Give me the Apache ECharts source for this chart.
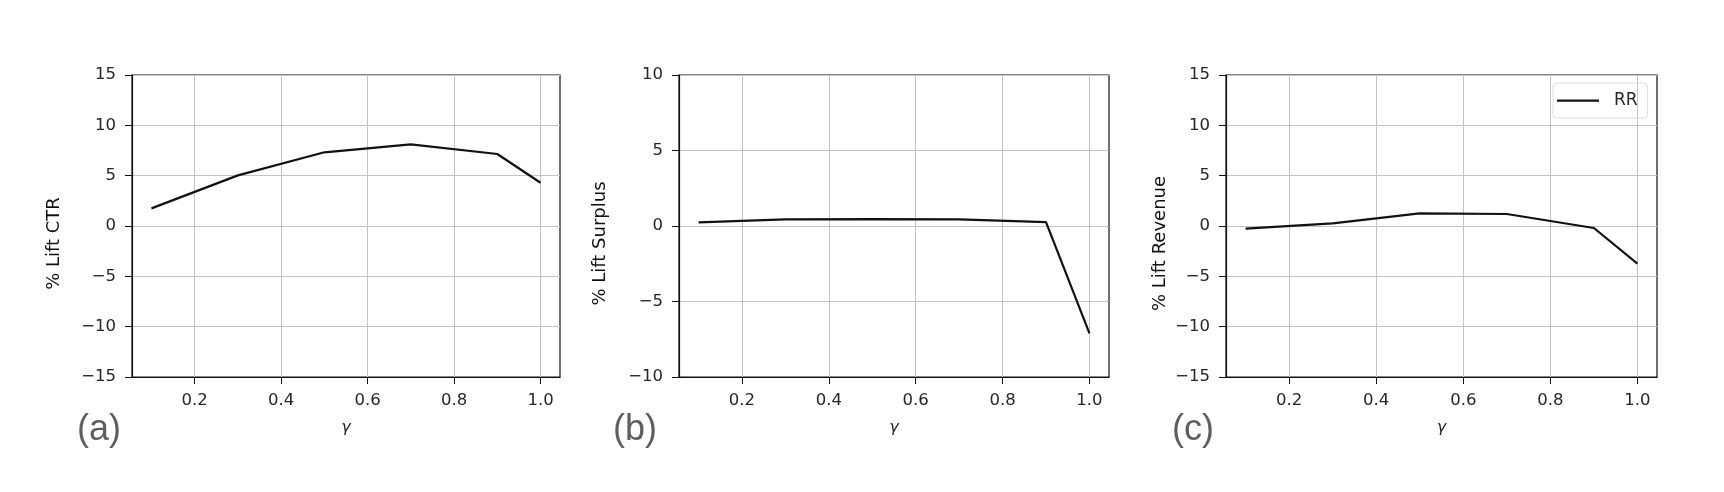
<!DOCTYPE html>
<html><head><meta charset="utf-8">
<script src="https://cdn.jsdelivr.net/npm/echarts@6/dist/echarts.min.js"></script>
<style>html,body{margin:0;padding:0;background:#fff}#c{width:1724px;height:492px}</style>
</head><body><div id="c"></div>
<script>
const gamma = [0.1, 0.3, 0.5, 0.7, 0.9, 1.0];
const liftCTR = [1.75, 5.03, 7.32, 8.11, 7.15, 4.30];
const liftSurplus = [0.24, 0.44, 0.46, 0.44, 0.26, -7.11];
const liftRevenue = [-0.26, 0.26, 1.26, 1.19, -0.20, -3.74];
const xTicks = [0.2, 0.4, 0.6, 0.8, 1.0];
const panelLabels = ['(a)', '(b)', '(c)'];
const yNames = ['% Lift CTR', '% Lift Surplus', '% Lift Revenue'];
const yMin = [-15, -10, -15];
const yMax = [15, 10, 15];
const seriesName = 'RR';

const allSeries = [liftCTR, liftSurplus, liftRevenue];
const gridPos = [
  {left: 132, top: 75, width: 428, height: 302},
  {left: 679, top: 75, width: 430, height: 302},
  {left: 1226, top: 75, width: 431, height: 302}
];
const yNameGap = [69, 70, 57];
const labelPos = [[77, 430], [613, 430], [1172, 430]];
const font = '"DejaVu Sans", sans-serif';
const textColor = '#262626';

const chart = echarts.init(document.getElementById('c'), null, {renderer: 'canvas'});
const option = {
  animation: false,
  backgroundColor: '#fff',
  grid: gridPos.map(g => Object.assign({show: true, borderColor: '#111', borderWidth: 1.2, backgroundColor: 'transparent'}, g)),
  xAxis: gridPos.map((g, i) => ({
    type: 'value', gridIndex: i, min: 0.055, max: 1.045,
    name: 'γ', nameLocation: 'middle', nameGap: 43,
    nameTextStyle: {fontFamily: font, fontStyle: 'italic', fontSize: 16, color: textColor},
    axisLine: {show: true, onZero: false, lineStyle: {color: '#111', width: 1.2}},
    axisTick: {show: true, inside: false, length: 7, customValues: xTicks, lineStyle: {color: '#111'}},
    axisLabel: {customValues: xTicks, margin: 15, fontFamily: font, fontSize: 16.5, color: textColor,
      formatter: v => v.toFixed(1)},
    splitLine: {show: true, lineStyle: {color: '#c4c4c4', width: 1}}
  })),
  yAxis: gridPos.map((g, i) => ({
    type: 'value', gridIndex: i, min: yMin[i], max: yMax[i], interval: 5,
    name: yNames[i], nameLocation: 'middle', nameGap: yNameGap[i], nameRotate: 90,
    nameTextStyle: {fontFamily: font, fontSize: 18, color: '#111', padding: [0, 35, 0, 0]},
    axisLine: {show: true, onZero: false, lineStyle: {color: '#111', width: 1.2}},
    axisTick: {show: true, inside: false, length: 7, lineStyle: {color: '#111'}},
    axisLabel: {margin: 16, fontFamily: font, fontSize: 16.5, color: textColor,
      formatter: v => (v < 0 ? '\u2212' + Math.abs(v) : String(v))},
    splitLine: {show: true, lineStyle: {color: '#c4c4c4', width: 1}}
  })),
  legend: {
    data: [{name: seriesName, icon: 'path://M0,0L0.01,0L0.01,0.01ZM0,6L42,6L42,8.2L0,8.2ZM0,14L0.01,14L0.01,13.99Z'}],
    left: 1553, top: 83,
    orient: 'vertical',
    padding: [9, 10, 9, 4],
    itemWidth: 42, itemHeight: 14,
    itemStyle: {color: '#111', borderWidth: 0},
    borderColor: '#dcdcdc', borderWidth: 1, borderRadius: 4,
    textStyle: {fontFamily: font, fontSize: 17, color: textColor, padding: [0, 0, 0, 10]}
  },
  series: allSeries.map((d, i) => ({
    name: seriesName, type: 'line', xAxisIndex: i, yAxisIndex: i,
    data: gamma.map((x, j) => [x, d[j]]),
    symbol: 'none', showSymbol: false,
    lineStyle: {color: '#111', width: 2.2},
    itemStyle: {color: '#111'}
  })),
  graphic: panelLabels.map((t, i) => ({
    type: 'text', x: labelPos[i][0], y: labelPos[i][1],
    style: {text: t, font: '36px "Liberation Sans", Arial, sans-serif', fill: '#5e5e5e', verticalAlign: 'middle'}
  }))
};
chart.setOption(option);
</script>
</body></html>
